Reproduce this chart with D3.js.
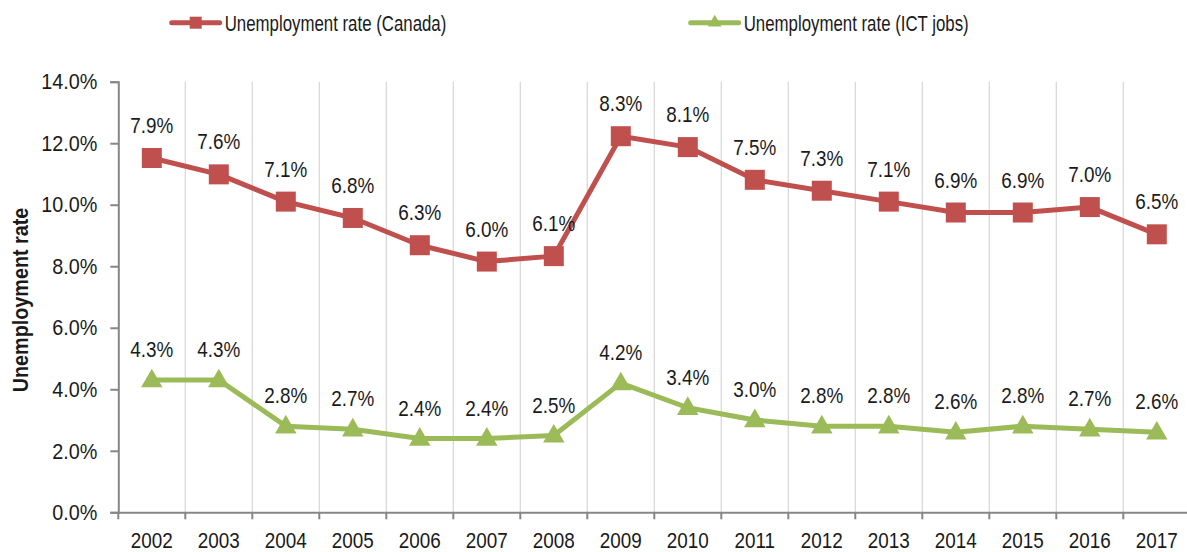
<!DOCTYPE html>
<html>
<head>
<meta charset="utf-8">
<script src="https://cdn.jsdelivr.net/npm/d3@7"></script>
<style>
  html, body { margin: 0; padding: 0; background: #fff; }
  svg { display: block; }
  text { font-family: "Liberation Sans", Arial, sans-serif; fill: #1a1a1a; }
</style>
</head>
<body>
<svg id="chart" width="1187" height="552"></svg>
<script>
// Years on the category axis
const years = ["2002","2003","2004","2005","2006","2007","2008","2009","2010","2011","2012","2013","2014","2015","2016","2017"];
// Unemployment rate, Canada (%)
const canadaRate = [7.9, 7.6, 7.1, 6.8, 6.3, 6.0, 6.1, 8.3, 8.1, 7.5, 7.3, 7.1, 6.9, 6.9, 7.0, 6.5];
// Unemployment rate, ICT jobs (%)
const ictRate = [4.3, 4.3, 2.8, 2.7, 2.4, 2.4, 2.5, 4.2, 3.4, 3.0, 2.8, 2.8, 2.6, 2.8, 2.7, 2.6];
// Left axis ticks (%)
const yTicks = [0, 2, 4, 6, 8, 10, 12, 14];
// Secondary (unlabelled) value range used for the Canada series
const canadaDomain = [1.4, 9.3];

const seriesNames = ["Unemployment rate (Canada)", "Unemployment rate (ICT jobs)"];
const RED = "#C0504D", GREEN = "#9BBB59";

const svg = d3.select("#chart");
const plot = { left: 118.3, right: 1190.3, top: 81.7, bottom: 512.3 };

const x = d3.scaleBand().domain(years).range([plot.left, plot.right]).padding(0);
const y = d3.scaleLinear().domain([0, 14]).range([plot.bottom, plot.top]);
const y2 = d3.scaleLinear().domain(canadaDomain).range([plot.bottom, plot.top]);
const cx = d => x(d) + x.bandwidth() / 2;
const pct = d => d.toFixed(1) + "%";

// condensed lettering: squeeze text horizontally around its anchor
function condensed(sel, sx) {
  sel.each(function () {
    const t = d3.select(this);
    const px = +t.attr("x") || 0, py = +t.attr("y") || 0;
    t.attr("x", 0).attr("y", 0)
     .attr("transform", `translate(${px},${py}) scale(${sx},1)`);
  });
}

// vertical gridlines at category boundaries
const bounds = years.slice(1).map(d => x(d));
svg.append("g").selectAll("line").data(bounds).join("line")
  .attr("x1", d => d).attr("x2", d => d)
  .attr("y1", plot.top).attr("y2", plot.bottom)
  .attr("stroke", "#D9D9D9").attr("stroke-width", 1.3);

// y axis
const yAxis = svg.append("g").attr("transform", `translate(${plot.left},0)`)
  .call(d3.axisLeft(y).tickValues(yTicks).tickFormat(pct).tickSize(8).tickPadding(13));
yAxis.select(".domain").attr("stroke", "#868686").attr("stroke-width", 2);
yAxis.selectAll(".tick line").attr("stroke", "#868686").attr("stroke-width", 2);
yAxis.selectAll(".tick text").attr("font-size", 22.5).attr("fill", "#1a1a1a")
  .style("font-family", '"Liberation Sans", Arial, sans-serif').call(condensed, 0.88);

// x axis with ticks between categories
const xAxis = svg.append("g").attr("transform", `translate(0,${plot.bottom})`)
  .call(d3.axisBottom(x).tickSize(0).tickPadding(20));
xAxis.select(".domain").attr("stroke", "#868686").attr("stroke-width", 2);
xAxis.selectAll(".tick text").attr("font-size", 22.5).attr("fill", "#1a1a1a")
  .style("font-family", '"Liberation Sans", Arial, sans-serif').call(condensed, 0.84);
svg.append("g").selectAll("line").data([plot.left, ...bounds]).join("line")
  .attr("x1", d => d).attr("x2", d => d)
  .attr("y1", plot.bottom).attr("y2", plot.bottom + 7)
  .attr("stroke", "#868686").attr("stroke-width", 2);

// y axis title
svg.append("text")
  .attr("transform", `translate(20,${(plot.top + plot.bottom) / 2 + 3}) rotate(-90) scale(0.9,1)`)
  .attr("text-anchor", "middle").attr("dominant-baseline", "central")
  .attr("font-size", 22).attr("font-weight", "bold")
  .text("Unemployment rate");

const line = (scale) => d3.line().x((d, i) => cx(years[i])).y(d => scale(d));

// Canada series
svg.append("path").datum(canadaRate)
  .attr("d", line(y2)).attr("fill", "none")
  .attr("stroke", RED).attr("stroke-width", 5).attr("stroke-linejoin", "round");
svg.append("g").selectAll("rect").data(canadaRate).join("rect")
  .attr("x", (d, i) => cx(years[i]) - 10).attr("y", d => y2(d) - 10)
  .attr("width", 20).attr("height", 20).attr("fill", RED);
svg.append("g").selectAll("text").data(canadaRate).join("text")
  .attr("x", (d, i) => cx(years[i])).attr("y", d => y2(d) - 33)
  .attr("text-anchor", "middle").attr("dominant-baseline", "central")
  .attr("font-size", 22.5).text(pct).call(condensed, 0.84);

// ICT series
const tri = d3.symbol().type(d3.symbolTriangle).size(200);
svg.append("path").datum(ictRate)
  .attr("d", line(y)).attr("fill", "none")
  .attr("stroke", GREEN).attr("stroke-width", 5).attr("stroke-linejoin", "round");
svg.append("g").selectAll("path").data(ictRate).join("path")
  .attr("d", tri)
  .attr("transform", (d, i) => `translate(${cx(years[i])},${y(d) + 1})`)
  .attr("fill", GREEN);
svg.append("g").selectAll("text").data(ictRate).join("text")
  .attr("x", (d, i) => cx(years[i])).attr("y", d => y(d) - 31)
  .attr("text-anchor", "middle").attr("dominant-baseline", "central")
  .attr("font-size", 22.5).text(pct).call(condensed, 0.84);

// legend
const legend = [
  { name: seriesNames[0], color: RED, x0: 171.7, marker: "square" },
  { name: seriesNames[1], color: GREEN, x0: 690.7, marker: "triangle" }
];
const lg = svg.append("g").selectAll("g").data(legend).join("g")
  .attr("transform", d => `translate(${d.x0},22.7)`);
lg.append("line").attr("x1", 0).attr("x2", 48).attr("y1", 0).attr("y2", 0)
  .attr("stroke", d => d.color).attr("stroke-width", 5).attr("stroke-linecap", "round");
lg.filter(d => d.marker === "square").append("rect")
  .attr("x", 18).attr("y", -6).attr("width", 12).attr("height", 12).attr("fill", d => d.color);
lg.filter(d => d.marker === "triangle").append("path")
  .attr("d", d3.symbol().type(d3.symbolTriangle).size(80))
  .attr("transform", "translate(24,0)").attr("fill", d => d.color);
lg.append("text").attr("x", 53).attr("y", 0).attr("dominant-baseline", "central")
  .attr("font-size", 22).text(d => d.name).call(condensed, 0.765);
</script>
</body>
</html>
